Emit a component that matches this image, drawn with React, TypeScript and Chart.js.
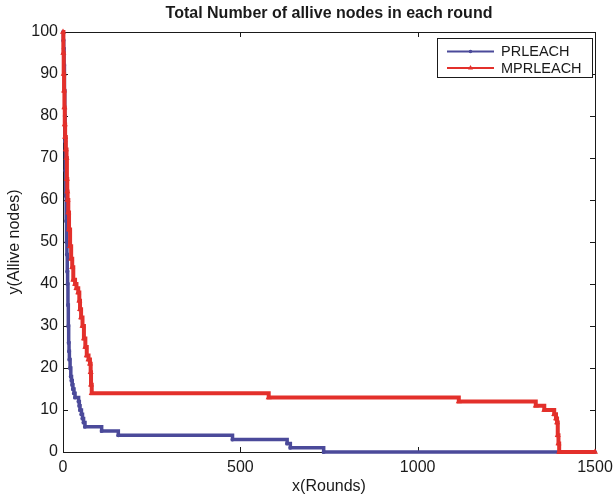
import React, { useEffect, useRef } from "react";
import { Chart, registerables } from "chart.js";

Chart.register(...registerables);

const chartTitle = "Total Number of allive nodes in each round";
const xLabel = "x(Rounds)";
const yLabel = "y(Allive nodes)";
const seriesNames = ["PRLEACH", "MPRLEACH"];
const xTicks = [0, 500, 1000, 1500];
const yTicks = [0, 10, 20, 30, 40, 50, 60, 70, 80, 90, 100];

// PRLEACH: round at which the alive count changes, and the new count
const prRounds = [0, 1, 2, 3, 4, 5, 6, 7, 8, 9, 10, 11, 12, 13, 14, 15, 16, 17, 18, 20, 22, 24, 26, 28, 31, 34, 44, 46, 48, 52, 55, 58, 62, 109, 156, 478, 632, 641, 735, 1500];
const prAlive = [100, 98, 96, 92, 86, 80, 74, 67, 61, 55, 50, 47, 43, 40, 35, 30, 26, 24, 22, 20, 18, 17, 16, 15, 14, 13, 12, 11, 10, 9, 8, 7, 6, 5, 4, 3, 2, 1, 0, 0];

// MPRLEACH
const mprRounds = [0, 1, 2, 3, 4, 5, 6, 8, 10, 11, 12, 13, 15, 17, 20, 23, 26, 29, 34, 38, 43, 46, 48, 51, 55, 59, 63, 67, 72, 76, 78, 79, 81, 580, 1116, 1333, 1357, 1385, 1390, 1393, 1395, 1397, 1399, 1500];
const mprAlive = [100, 95, 90, 86, 82, 78, 75, 72, 70, 65, 62, 60, 57, 53, 49, 46, 44, 41, 40, 39, 38, 36, 34, 32, 30, 27, 25, 23, 22, 21, 19, 16, 14, 13, 12, 11, 10, 9, 8, 7, 4, 2, 0, 0];

const FONT = "'Liberation Sans', Arial, Helvetica, sans-serif";
const BLUE = "#4b4a9a";
const RED = "#e3302b";
const INK = "#1a1a1a";

const framePlugin = {
  id: "matlabFrame",
  beforeDatasetsDraw(chart: any) {
    const { ctx, chartArea: a, scales } = chart;
    ctx.save();
    ctx.strokeStyle = INK;
    ctx.lineWidth = 1;
    ctx.strokeRect(Math.round(a.left) + 0.5, Math.round(a.top) + 0.5, Math.round(a.right - a.left), Math.round(a.bottom - a.top));
    const tl = 5;
    ctx.beginPath();
    for (const v of xTicks) {
      const x = Math.round(scales.x.getPixelForValue(v)) + 0.5;
      ctx.moveTo(x, a.bottom);
      ctx.lineTo(x, a.bottom - tl);
      ctx.moveTo(x, a.top);
      ctx.lineTo(x, a.top + tl);
    }
    for (const v of yTicks) {
      const y = Math.round(scales.y.getPixelForValue(v)) + 0.5;
      ctx.moveTo(a.left, y);
      ctx.lineTo(a.left + tl, y);
      ctx.moveTo(a.right, y);
      ctx.lineTo(a.right - tl, y);
    }
    ctx.stroke();
    ctx.restore();
  },
  afterDraw(chart: any) {
    const { ctx, chartArea: a } = chart;
    ctx.save();
    const bx = a.right - 158;
    const by = a.top + 6;
    const bw = 155;
    const bh = 39;
    ctx.fillStyle = "#fff";
    ctx.fillRect(bx, by, bw, bh);
    ctx.strokeStyle = INK;
    ctx.lineWidth = 1;
    ctx.strokeRect(Math.round(bx) + 0.5, Math.round(by) + 0.5, bw, bh);
    const items = [
      { name: seriesNames[0], color: BLUE, marker: "dot" },
      { name: seriesNames[1], color: RED, marker: "tri" },
    ];
    ctx.font = `14.5px ${FONT}`;
    ctx.textBaseline = "middle";
    ctx.textAlign = "left";
    items.forEach((it, i) => {
      const y = by + 13.5 + i * 16.5;
      const x0 = bx + 10;
      const x1 = bx + 57;
      ctx.strokeStyle = it.color;
      ctx.lineWidth = 2;
      ctx.beginPath();
      ctx.moveTo(x0, y);
      ctx.lineTo(x1, y);
      ctx.stroke();
      const mx = (x0 + x1) / 2;
      ctx.fillStyle = it.color;
      ctx.beginPath();
      if (it.marker === "dot") {
        ctx.arc(mx, y, 1.8, 0, Math.PI * 2);
      } else {
        ctx.moveTo(mx, y - 3);
        ctx.lineTo(mx + 2.5, y + 1.5);
        ctx.lineTo(mx - 2.5, y + 1.5);
        ctx.closePath();
      }
      ctx.fill();
      ctx.fillStyle = INK;
      ctx.fillText(it.name, bx + 64, y + 0.5);
    });
    ctx.restore();
  },
};

export default function App() {
  const canvasRef = useRef<HTMLCanvasElement | null>(null);

  useEffect(() => {
    document.body.style.margin = "0";
    const canvas = canvasRef.current;
    if (!canvas) return;
    const prData = prRounds.map((r, i) => ({ x: r, y: prAlive[i] }));
    const mprData = mprRounds.map((r, i) => ({ x: r, y: mprAlive[i] }));

    const chart = new Chart(canvas, {
      type: "line",
      data: {
        datasets: [
          {
            label: seriesNames[0],
            data: prData,
            borderColor: BLUE,
            backgroundColor: BLUE,
            borderWidth: 3.5,
            stepped: true,
            pointStyle: "circle",
            pointRadius: 2,
            pointBorderWidth: 0,
            pointBackgroundColor: BLUE,
            clip: false,
            order: 2,
          },
          {
            label: seriesNames[1],
            data: mprData,
            borderColor: RED,
            backgroundColor: RED,
            borderWidth: 4,
            stepped: true,
            pointStyle: "triangle",
            pointRadius: 3.5,
            pointBorderWidth: 0,
            pointBackgroundColor: RED,
            clip: false,
            order: 1,
          },
        ],
      },
      options: {
        responsive: false,
        animation: false,
        devicePixelRatio: 1,
        layout: { padding: { left: 0, right: 19, top: 0, bottom: 0 } },
        plugins: {
          legend: { display: false },
          tooltip: { enabled: false },
          title: {
            display: true,
            text: chartTitle,
            fullSize: false,
            color: INK,
            font: { family: FONT, size: 16, weight: "bold", lineHeight: 1.2 },
            padding: { top: 3.5, bottom: 9.3 },
          },
        },
        scales: {
          x: {
            type: "linear",
            min: 0,
            max: 1500,
            offset: false,
            grid: { display: false, drawTicks: false },
            border: { display: false },
            afterBuildTicks: (s: any) => {
              s.ticks = xTicks.map((v) => ({ value: v }));
            },
            afterFit: (s: any) => {
              s.height = 46;
              s.paddingLeft = 0;
              s.paddingRight = 0;
            },
            ticks: {
              autoSkip: false,
              maxRotation: 0,
              padding: 6,
              color: INK,
              font: { family: FONT, size: 16 },
              callback: (v: any) => String(v),
            },
            title: {
              display: true,
              text: xLabel,
              color: INK,
              font: { family: FONT, size: 16 },
              padding: { top: 0, bottom: 1.5 },
            },
          },
          y: {
            type: "linear",
            min: 0,
            max: 100,
            grid: { display: false, drawTicks: false },
            border: { display: false },
            afterBuildTicks: (s: any) => {
              s.ticks = yTicks.map((v) => ({ value: v }));
            },
            afterFit: (s: any) => {
              s.width = 63;
              s.paddingTop = 0;
              s.paddingBottom = 0;
            },
            ticks: {
              autoSkip: false,
              padding: 5,
              color: INK,
              font: { family: FONT, size: 16 },
              callback: (v: any) => String(v),
            },
            title: {
              display: true,
              text: yLabel,
              color: INK,
              font: { family: FONT, size: 16 },
              padding: { top: 5, bottom: 0 },
            },
          },
        },
      },
      plugins: [framePlugin],
    });
    return () => chart.destroy();
  }, []);

  return (
    <div style={{ width: 614, height: 498 }}>
      <canvas ref={canvasRef} width={614} height={498} style={{ display: "block" }} />
    </div>
  );
}
